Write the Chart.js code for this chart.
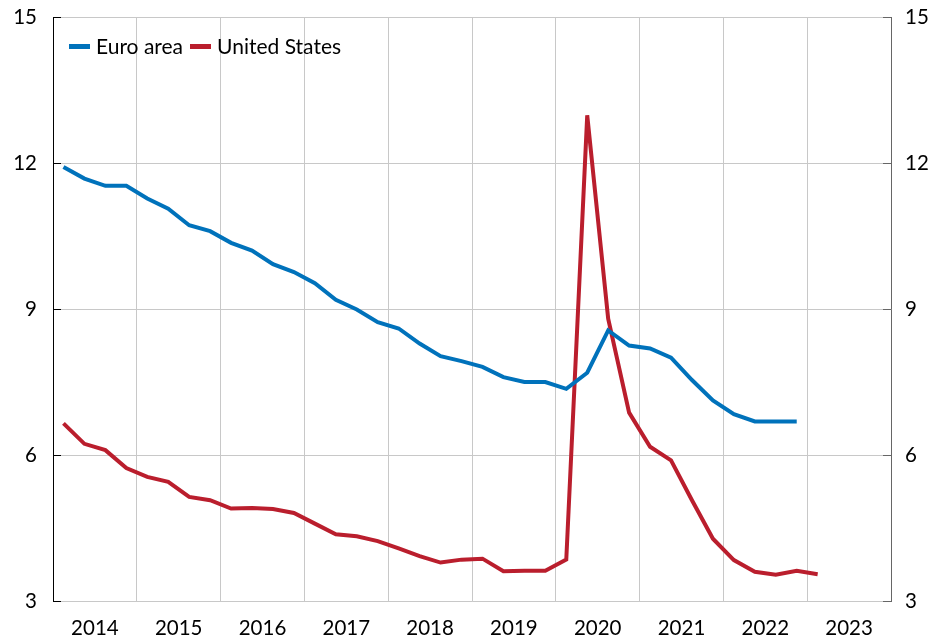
<!DOCTYPE html>
<html>
<head>
<meta charset="utf-8">
<script src="https://cdn.jsdelivr.net/npm/chart.js@4/dist/chart.umd.min.js"></script>
<style>
  html, body { margin: 0; padding: 0; background: #ffffff; }
  #wrap { width: 928px; height: 642px; position: relative; }
  #legend { position: absolute; left: 69px; top: 33px; display: flex; align-items: center;
            font-family: Lato, "Open Sans", sans-serif; font-size: 21px; color: #000; line-height: 26px; }
  .item { display: flex; align-items: center; margin-right: 7px; }
  .swatch { width: 21px; height: 5px; margin-right: 6px; }
</style>
</head>
<body>
<div id="wrap"><canvas id="c" width="928" height="642"></canvas><div id="legend"></div></div>
<script>
// Tick labels (years) – the x axis spans 2014Q1 .. 2023Q4 (40 quarters)
const years = ['2014', '2015', '2016', '2017', '2018', '2019', '2020', '2021', '2022', '2023'];
const seriesNames = ['Euro area', 'United States'];
const seriesColors = ['#0072BB', '#BA1E2D'];

// Quarterly values from 2014Q1
const euroArea = [11.92, 11.68, 11.53, 11.53, 11.27, 11.06, 10.72, 10.60, 10.36, 10.20,
  9.92, 9.76, 9.53, 9.19, 8.99, 8.73, 8.60, 8.29, 8.03, 7.93,
  7.81, 7.60, 7.50, 7.50, 7.36, 7.69, 8.56, 8.25, 8.19, 8.00,
  7.54, 7.12, 6.84, 6.69, 6.69, 6.69];
const unitedStates = [6.65, 6.23, 6.10, 5.73, 5.55, 5.45, 5.14, 5.07, 4.90, 4.91,
  4.89, 4.81, 4.59, 4.37, 4.33, 4.23, 4.08, 3.92, 3.79, 3.85,
  3.87, 3.61, 3.62, 3.62, 3.85, 12.98, 8.80, 6.87, 6.17, 5.89,
  5.07, 4.28, 3.84, 3.60, 3.54, 3.62, 3.55];
const yTicks = [3, 6, 9, 12, 15];

const toPoints = arr => arr.map((v, i) => ({ x: i + 0.5, y: v }));
const nQuarters = years.length * 4;

const FONT = { family: 'Lato, "Open Sans", sans-serif', size: 20.5 };

// HTML legend (real text)
const legendEl = document.getElementById('legend');
seriesNames.forEach((name, i) => {
  const it = document.createElement('div'); it.className = 'item';
  const sw = document.createElement('span'); sw.className = 'swatch'; sw.style.background = seriesColors[i];
  const tx = document.createElement('span'); tx.textContent = name;
  it.appendChild(sw); it.appendChild(tx); legendEl.appendChild(it);
});

const innerTicks = {
  id: 'innerTicks',
  afterDraw(chart) {
    const ctx = chart.ctx, a = chart.chartArea;
    const yl = chart.scales.y, yr = chart.scales.y1;
    ctx.save();
    ctx.lineWidth = 1;
    yTicks.forEach(v => {
      const py = Math.round(yl.getPixelForValue(v)) + 0.5;
      ctx.strokeStyle = '#000000';
      ctx.beginPath(); ctx.moveTo(a.left, py); ctx.lineTo(a.left + 8, py); ctx.stroke();
      const pr = Math.round(yr.getPixelForValue(v)) + 0.5;
      ctx.strokeStyle = '#666666';
      ctx.beginPath(); ctx.moveTo(a.right - 8, pr); ctx.lineTo(a.right, pr); ctx.stroke();
    });
    ctx.restore();
  }
};

const fitY = w => s => { s.width = w; s.paddingTop = 0; s.paddingBottom = 0; };

new Chart(document.getElementById('c'), {
  type: 'line',
  data: {
    datasets: [
      { label: seriesNames[0], data: toPoints(euroArea), borderColor: seriesColors[0], backgroundColor: seriesColors[0],
        borderWidth: 4, pointRadius: 0, tension: 0, borderCapStyle: 'butt', yAxisID: 'y' },
      { label: seriesNames[1], data: toPoints(unitedStates), borderColor: seriesColors[1], backgroundColor: seriesColors[1],
        borderWidth: 4, pointRadius: 0, tension: 0, borderCapStyle: 'butt', yAxisID: 'y' }
    ]
  },
  options: {
    responsive: false,
    animation: false,
    devicePixelRatio: 1,
    layout: { padding: { top: 17, left: 0, right: 0, bottom: 0 } },
    plugins: {
      legend: { display: false },
      tooltip: { enabled: false }
    },
    scales: {
      x: {
        type: 'linear', min: 0, max: nQuarters,
        afterBuildTicks: s => { const t = []; for (let v = 0; v <= nQuarters; v += 2) t.push({ value: v }); s.ticks = t; },
        afterFit: s => { s.height = 41; s.paddingLeft = 0; s.paddingRight = 0; },
        grid: {
          color: c => (c.tick && c.tick.value % 4 === 0) ? '#C8C8C8' : 'rgba(0,0,0,0)',
          lineWidth: 1, drawTicks: false
        },
        border: { color: '#C8C8C8' },
        ticks: {
          autoSkip: false, maxRotation: 0, padding: 15, font: FONT, color: '#000000',
          callback: v => (v % 4 === 2) ? years[(v - 2) / 4] : ''
        }
      },
      y: {
        position: 'left', min: 3, max: 15,
        afterBuildTicks: s => { s.ticks = yTicks.map(v => ({ value: v })); },
        afterFit: fitY(53),
        grid: { color: '#C8C8C8', drawTicks: false },
        border: { color: '#000000' },
        ticks: { padding: 16, font: FONT, color: '#000000' }
      },
      y1: {
        position: 'right', min: 3, max: 15,
        afterBuildTicks: s => { s.ticks = yTicks.map(v => ({ value: v })); },
        afterFit: fitY(37),
        grid: { display: false, drawTicks: false },
        border: { color: '#666666' },
        ticks: { padding: 14, font: FONT, color: '#000000' }
      }
    }
  },
  plugins: [innerTicks]
});
</script>
</body>
</html>
